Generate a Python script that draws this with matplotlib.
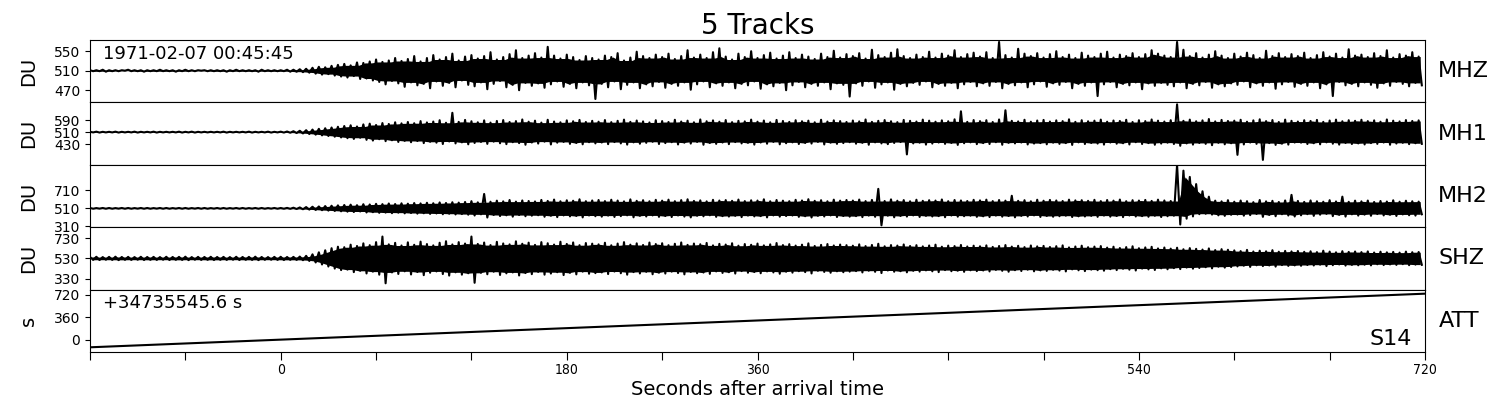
import numpy as np
import matplotlib
matplotlib.use("Agg")
import matplotlib.pyplot as plt

# ---------------- data ----------------
title = "5 Tracks"
channels = ["MHZ", "MH1", "MH2", "SHZ", "ATT"]
units = ["DU", "DU", "DU", "DU", "s"]
start_label = "1971-02-07 00:45:45"
offset_label = "+34735545.6 s"
station = "S14"
xlabel = "Seconds after arrival time"

# time bins (s after arrival), 4 s apart; each bin has a max (hi) and min (lo) value
bin_start = -120
bin_step = 4

mhz_hi = [511,511,512,511,511,511,512,511,511,511,
          511,512,511,511,511,512,511,511,511,511,
          511,511,511,512,511,511,511,512,511,511,
          511,512,512,513,514,516,518,517,520,522,
          524,521,527,526,529,533,528,531,536,530,
          534,540,529,536,542,533,538,545,531,539,
          542,535,540,548,533,538,544,552,536,541,
          546,537,559,541,535,543,538,532,540,536,
          533,541,538,546,531,537,549,540,536,543,
          538,545,534,540,552,537,543,536,548,556,
          539,533,545,538,550,536,542,547,535,541,
          548,536,543,539,534,545,538,551,537,544,
          540,546,535,553,542,538,547,554,540,536,
          543,538,549,537,545,541,552,538,544,547,
          539,548,536,569,542,537,555,545,540,546,
          537,544,550,538,543,536,547,541,538,545,
          549,537,543,540,546,538,544,552,545,541,
          538,569,553,540,546,537,543,550,541,536,
          545,539,547,542,536,551,540,546,538,544,
          540,547,536,542,548,539,545,537,554,541,
          543,538,546,540,552,537,544,541,548,539]
mhz_lo = [509,509,508,509,509,510,509,509,508,509,
          509,509,509,508,509,509,509,510,509,509,
          509,508,509,509,509,509,508,509,509,509,
          509,508,508,507,506,504,502,503,500,498,
          496,499,493,494,490,487,482,489,484,477,
          486,480,483,474,488,479,485,476,490,481,
          478,486,472,483,489,476,481,470,485,479,
          484,475,482,488,477,483,474,486,480,452,
          483,476,488,472,481,486,474,482,478,487,
          475,483,479,486,471,482,488,476,484,479,
          486,474,483,480,488,473,482,478,485,470,
          480,487,476,483,479,486,472,484,481,457,
          484,479,488,475,482,486,471,483,478,485,
          481,488,476,483,479,485,474,482,487,478,
          484,479,487,474,483,480,486,476,482,488,
          477,484,481,487,474,483,479,486,458,482,
          487,476,483,480,486,472,484,479,485,481,
          478,486,474,483,480,487,475,482,478,484,
          481,488,476,484,479,486,473,482,487,477,
          483,479,486,474,482,458,487,480,483,478,
          486,481,475,484,479,487,483,478,485,480]

mh1_hi = [512,513,512,512,513,512,512,513,512,512,
          513,512,512,512,513,512,513,512,512,512,
          512,513,512,512,512,513,512,512,513,512,
          513,514,516,519,523,527,532,536,541,546,
          551,556,548,562,567,558,571,565,576,569,
          578,570,584,575,581,590,573,640,579,592,
          583,576,589,574,585,591,578,584,595,580,
          587,574,593,581,576,589,583,592,578,586,
          580,591,577,586,594,579,588,582,575,590,
          584,578,593,581,587,576,595,583,589,580,
          591,577,586,582,594,580,588,576,592,585,
          579,590,583,587,576,593,581,589,584,578,
          588,582,595,579,586,591,583,577,592,586,
          581,594,587,580,589,583,596,650,579,591,
          584,590,578,595,657,586,582,593,580,588,
          592,581,589,584,596,579,590,583,587,594,
          580,588,585,593,578,590,584,595,587,581,
          590,697,586,594,583,589,598,582,592,585,
          587,593,580,589,596,584,591,578,594,586,
          581,590,585,592,579,588,594,583,590,586,
          593,584,589,580,595,587,582,591,585,589]
mh1_lo = [508,507,508,508,507,508,508,507,508,508,
          507,508,508,508,507,508,507,508,508,508,
          508,507,508,508,508,507,508,508,507,508,
          507,506,504,501,497,493,488,484,479,474,
          469,464,472,458,453,462,449,455,444,451,
          442,450,436,445,439,430,447,434,441,428,
          437,444,431,446,435,429,442,436,425,440,
          433,446,427,439,444,431,437,428,442,434,
          440,429,443,434,426,441,432,438,445,430,
          436,442,427,439,433,444,425,437,431,440,
          429,443,434,438,426,440,432,444,428,435,
          441,430,437,433,444,427,439,431,436,442,
          432,438,425,441,434,429,437,443,360,434,
          439,426,433,440,431,437,424,435,441,429,
          436,430,442,425,438,434,440,427,433,436,
          428,439,431,436,424,441,430,437,433,426,
          440,432,435,427,442,430,436,425,433,439,
          430,418,434,426,437,431,422,438,428,435,
          357,427,440,431,323,436,424,432,426,440,
          439,430,435,428,441,432,426,437,430,434,
          427,436,431,440,425,433,438,429,435,431]

mh2_hi = [514,513,514,514,513,514,514,513,514,514,
          513,514,514,513,514,514,513,514,514,513,
          514,514,513,514,514,513,514,514,513,514,
          514,515,517,520,524,528,531,535,539,543,
          547,551,545,556,553,560,557,564,558,566,
          562,569,565,572,567,576,570,578,574,581,
          590,577,670,584,596,588,603,585,598,592,
          587,604,593,608,589,600,595,611,590,598,
          603,591,606,597,588,610,594,601,589,605,
          596,607,590,602,611,593,599,588,605,597,
          602,594,608,591,600,597,611,589,603,596,
          590,605,598,612,594,601,589,607,596,603,
          597,608,591,604,727,592,610,595,602,589,
          606,594,601,597,609,590,603,598,592,605,
          599,607,591,603,596,650,594,601,589,606,
          595,604,598,592,607,599,601,594,605,591,
          603,596,608,590,601,597,604,593,607,598,
          592,995,930,860,780,700,640,596,588,601,
          584,597,590,579,603,588,594,581,598,660,
          593,582,598,589,584,601,587,640,583,596,
          588,597,581,592,586,600,584,595,589,585]
mh2_lo = [506,507,506,506,507,506,506,507,506,506,
          507,506,506,507,506,506,507,506,506,507,
          506,506,507,506,506,507,506,506,507,506,
          506,505,503,500,496,492,489,485,481,477,
          473,469,475,464,467,460,463,456,462,454,
          458,451,455,448,453,444,450,442,446,439,
          430,443,408,436,424,432,417,435,422,428,
          433,416,427,412,431,420,425,409,430,422,
          417,429,414,423,432,410,426,419,431,415,
          424,413,430,418,409,427,421,432,415,423,
          418,426,412,429,420,423,409,431,417,424,
          430,415,422,408,426,419,431,413,424,417,
          423,412,429,416,321,428,410,425,418,431,
          414,426,419,423,411,430,417,422,428,415,
          421,413,429,417,424,410,426,419,431,414,
          425,416,422,428,413,421,419,426,415,429,
          417,424,412,430,419,423,416,427,413,422,
          428,330,395,420,445,450,440,432,426,438,
          441,428,434,447,415,436,422,444,430,419,
          432,445,426,439,448,423,437,418,443,429,
          440,427,446,431,438,425,442,433,429,444]

shz_hi = [544,546,543,545,547,544,545,543,546,544,
          545,543,546,544,545,547,543,545,544,546,
          544,545,543,546,544,545,547,544,543,545,
          546,544,545,548,555,570,590,610,630,645,
          640,665,652,678,660,690,745,668,683,657,
          688,664,695,671,658,684,699,667,690,676,
          745,672,686,661,693,677,668,698,674,685,
          663,690,679,666,694,672,687,660,681,675,
          668,684,659,676,690,665,678,662,686,671,
          679,660,674,687,663,676,669,682,658,673,
          666,679,655,671,664,676,658,668,681,661,
          670,656,665,678,652,663,671,657,666,660,
          655,668,651,662,674,649,661,656,667,652,
          660,648,657,665,645,656,651,662,647,655,
          649,658,643,652,661,646,654,641,657,648,
          653,642,650,658,638,647,655,640,646,651,
          636,645,632,641,649,630,638,644,628,637,
          626,635,620,631,624,617,628,612,621,615,
          609,602,614,598,606,600,611,596,604,599,
          603,595,600,592,606,597,590,601,594,598,
          592,599,588,596,590,594,587,597,591,593]
shz_lo = [516,514,517,515,513,516,515,517,514,516,
          515,517,514,516,515,513,517,515,516,514,
          516,515,517,514,516,515,513,516,517,515,
          514,516,515,512,505,490,470,450,430,415,
          420,395,408,382,400,370,285,392,377,403,
          372,396,365,389,402,376,361,393,370,384,
          290,388,374,399,367,383,392,362,386,375,
          397,370,381,394,366,388,373,400,379,385,
          392,376,401,384,370,395,382,398,374,389,
          381,400,386,373,397,384,391,378,402,387,
          394,381,405,389,396,384,402,392,379,399,
          390,404,395,382,408,397,389,403,394,400,
          405,392,409,398,386,411,399,404,393,408,
          400,412,403,395,415,404,409,398,413,405,
          411,402,417,408,399,414,406,419,403,412,
          407,418,410,402,422,413,405,420,414,409,
          424,415,428,419,411,430,422,416,432,423,
          434,425,440,429,436,443,432,448,439,445,
          451,458,446,462,454,460,449,464,456,461,
          457,465,460,468,454,463,470,459,466,462,
          468,461,472,464,470,466,473,463,469,467]

att_time = [-120, 720]
att_value = [-120, 735]

yticks = [[470, 510, 550], [430, 510, 590], [310, 510, 710], [330, 530, 730], [0, 360, 720]]
ylims = [(445, 573), (290, 710), (300, 995), (223, 837), (-195, 800)]

xlim = (-120, 720)
xtick_pos = [-120, -60, 0, 60, 120, 180, 240, 300, 360, 420, 480, 540, 600, 660, 720]
xtick_lab = ["", "", "0", "", "", "180", "", "360", "", "", "", "540", "", "", "720"]

# ---------------- plot ----------------
fig = plt.figure(figsize=(15, 4), dpi=100)
gs = fig.add_gridspec(5, 1, left=0.06, right=0.95, top=0.9, bottom=0.12, hspace=0)
axes = [fig.add_subplot(gs[i, 0]) for i in range(5)]


def neighbour_extreme(vals, fn):
    v = np.asarray(vals, dtype=float)
    p = np.pad(v, 1, mode="edge")
    return fn(fn(p[:-2], p[1:-1]), p[2:])


traces = [(mhz_hi, mhz_lo), (mh1_hi, mh1_lo), (mh2_hi, mh2_lo), (shz_hi, shz_lo)]
for ax, (hi, lo) in zip(axes[:4], traces):
    n = len(hi)
    tb = bin_start + bin_step * np.arange(n)
    # dense core of the trace: the band every neighbouring swing crosses
    core_hi = neighbour_extreme(hi, np.minimum)
    core_lo = neighbour_extreme(lo, np.maximum)
    ax.fill_between(tb + bin_step / 4, core_lo, core_hi, color="black", lw=0)
    # trace swinging between the max and min of each bin
    t = np.empty(2 * n)
    y = np.empty(2 * n)
    t[0::2] = tb
    t[1::2] = tb + bin_step / 2
    y[0::2] = hi
    y[1::2] = lo
    ax.plot(t, y, color="black", lw=1.5)

axes[4].plot(att_time, att_value, color="black", lw=1.5)

for i, ax in enumerate(axes):
    ax.set_xlim(*xlim)
    ax.set_ylim(*ylims[i])
    ax.set_yticks(yticks[i])
    ax.tick_params(axis="y", labelsize=10)
    ax.set_ylabel(units[i], fontsize=14)
    ax.yaxis.set_label_coords(-0.039, 0.5)
    ax.text(1.01, 0.5, channels[i], transform=ax.transAxes, fontsize=16,
            ha="left", va="center")
    if i < 4:
        ax.tick_params(axis="x", bottom=False, labelbottom=False)
    else:
        ax.set_xticks(xtick_pos)
        ax.set_xticklabels(xtick_lab, fontsize=10, fontstretch="condensed")
        ax.tick_params(axis="x", length=6, pad=2)
        ax.set_xlabel(xlabel, fontsize=14, labelpad=2)

axes[0].set_title(title, fontsize=20, pad=3)
axes[0].text(0.01, 0.78, start_label, transform=axes[0].transAxes, fontsize=13,
             ha="left", va="center")
axes[4].text(0.01, 0.78, offset_label, transform=axes[4].transAxes, fontsize=13,
             ha="left", va="center")
axes[4].text(0.99, 0.05, station, transform=axes[4].transAxes, fontsize=16,
             ha="right", va="bottom")

fig.savefig("out.png", dpi=100)
